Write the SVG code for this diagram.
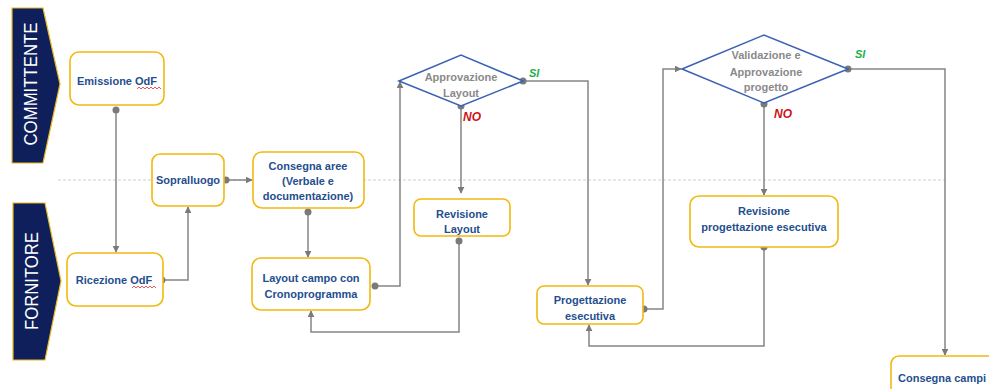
<svg xmlns="http://www.w3.org/2000/svg" width="989" height="389" viewBox="0 0 989 389">
<style>
.lane{fill:#0e1f5b;stroke:#e8b923;stroke-width:1.2}
.lt{fill:#fff;font-family:"Liberation Sans",Arial,sans-serif;font-size:18px;text-anchor:middle;dominant-baseline:central}
.box{fill:#fff;stroke:#f2b90f;stroke-width:1.6}
.dia{fill:#fff;stroke:#3b62b5;stroke-width:1.6}
.t{fill:#1f4f8f;font-family:"Liberation Sans",Arial,sans-serif;font-size:11px;font-weight:bold;text-anchor:middle}
.dt{fill:#8a8a8a;font-family:"Liberation Sans",Arial,sans-serif;font-size:11px;font-weight:bold;text-anchor:middle}
.c{fill:none;stroke:#858585;stroke-width:1.5}
.d{fill:#7a7a7a}
.si{fill:#22b04b;font-family:"Liberation Sans",Arial,sans-serif;font-size:11px;font-weight:bold;font-style:italic}
.no{fill:#d0121b;font-family:"Liberation Sans",Arial,sans-serif;font-size:12px;font-weight:bold;font-style:italic}
.sq{fill:none;stroke:#e03030;stroke-width:0.8}
</style>
<defs>
<marker id="ar" viewBox="0 0 10 10" refX="9" refY="5" markerWidth="7" markerHeight="7" markerUnits="userSpaceOnUse" orient="auto">
<path d="M0,0 L10,5 L0,10 z" fill="#7a7a7a"/>
</marker>
</defs>
<rect width="989" height="389" fill="#fff"/>
<line x1="58" y1="180" x2="945" y2="180" stroke="#cfcfcf" stroke-width="1" stroke-dasharray="3,2"/>
<g id="lane-committente">
<polygon class="lane" points="12,8 43,8 60,84 43,163 12,163"/>
<text class="lt" transform="translate(31,84) rotate(-90)" textLength="123" lengthAdjust="spacingAndGlyphs">COMMITTENTE</text>
</g>
<g id="lane-fornitore">
<polygon class="lane" points="13,203 45,203 61,281 45,360 13,360"/>
<text class="lt" transform="translate(32,281) rotate(-90)" textLength="98" lengthAdjust="spacingAndGlyphs">FORNITORE</text>
</g>
<g id="connectors">
<path class="c" d="M116,110 V252" marker-end="url(#ar)"/>
<circle class="d" cx="116" cy="110" r="3.5"/>
<path class="c" d="M162,280 H188 V207" marker-end="url(#ar)"/>
<circle class="d" cx="162" cy="280" r="3.5"/>
<path class="c" d="M226,180 H252" marker-end="url(#ar)"/>
<circle class="d" cx="226" cy="180" r="3.5"/>
<path class="c" d="M308,212 V257" marker-end="url(#ar)"/>
<circle class="d" cx="308" cy="212" r="3.5"/>
<path class="c" d="M375,286 H400 V82" marker-end="url(#ar)"/>
<circle class="d" cx="375" cy="286" r="3.5"/>
<path class="c" d="M461,106 V193" marker-end="url(#ar)"/>
<circle class="d" cx="461" cy="106" r="3.5"/>
<path class="c" d="M459,241 V332 H311 V311" marker-end="url(#ar)"/>
<circle class="d" cx="459" cy="241" r="3.5"/>
<path class="c" d="M523,81 H588 V285" marker-end="url(#ar)"/>
<circle class="d" cx="523" cy="81" r="3.5"/>
<path class="c" d="M644,309 H663 V69 H681" marker-end="url(#ar)"/>
<circle class="d" cx="644" cy="309" r="3.5"/>
<path class="c" d="M764,104 V195" marker-end="url(#ar)"/>
<circle class="d" cx="764" cy="104" r="3.5"/>
<path class="c" d="M764,247 V346 H589 V325" marker-end="url(#ar)"/>
<circle class="d" cx="764" cy="247" r="3.5"/>
<path class="c" d="M848,69 H945 V355" marker-end="url(#ar)"/>
<circle class="d" cx="848" cy="69" r="3.5"/>
<text class="si" x="529" y="77">SI</text>
<text class="no" x="463" y="121">NO</text>
<text class="no" x="774" y="118">NO</text>
<text class="si" x="855" y="58">SI</text>
</g>
<g id="emissione">
<rect class="box" x="70" y="52" width="94" height="53" rx="9"/>
<text class="t" x="117" y="85">Emissione OdF</text>
<path class="sq" d="M137,89 l2,-2 l2,2 l2,-2 l2,2 l2,-2 l2,2 l2,-2 l2,2 l2,-2 l2,2 l2,-2 l2,2"/>
</g>
<g id="ricezione">
<rect class="box" x="67" y="253" width="96" height="53" rx="9"/>
<text class="t" x="114" y="284">Ricezione OdF</text>
<path class="sq" d="M132,288 l2,-2 l2,2 l2,-2 l2,2 l2,-2 l2,2 l2,-2 l2,2 l2,-2 l2,2 l2,-2 l2,2"/>
</g>
<g id="sopralluogo">
<rect class="box" x="152" y="154" width="72" height="52" rx="8"/>
<text class="t" x="188" y="184">Sopralluogo</text>
</g>
<g id="consegna-aree">
<rect class="box" x="253" y="152" width="111" height="56" rx="9"/>
<text class="t" x="308" y="170">Consegna aree</text>
<text class="t" x="308" y="185">(Verbale e</text>
<text class="t" x="308" y="200">documentazione)</text>
</g>
<g id="layout-campo">
<rect class="box" x="252" y="258" width="118" height="52" rx="9"/>
<text class="t" x="311" y="282">Layout campo con</text>
<text class="t" x="311" y="298">Cronoprogramma</text>
</g>
<g id="approvazione-layout">
<polygon class="dia" points="399,81 461,55 523,81 461,106"/>
<text class="dt" x="461" y="81">Approvazione</text>
<text class="dt" x="461" y="97">Layout</text>
</g>
<g id="revisione-layout">
<rect class="box" x="414" y="199" width="96" height="37" rx="7"/>
<text class="t" x="462" y="218">Revisione</text>
<text class="t" x="462" y="233">Layout</text>
</g>
<g id="progettazione">
<rect class="box" x="537" y="286" width="106" height="38" rx="7"/>
<text class="t" x="590" y="304">Progettazione</text>
<text class="t" x="590" y="320">esecutiva</text>
</g>
<g id="validazione">
<polygon class="dia" points="682,69 764,35 848,69 764,103"/>
<text class="dt" x="766" y="59">Validazione e</text>
<text class="dt" x="766" y="76">Approvazione</text>
<text class="dt" x="766" y="91">progetto</text>
</g>
<g id="revisione-progettazione">
<rect class="box" x="690" y="196" width="148" height="51" rx="9"/>
<text class="t" x="764" y="215">Revisione</text>
<text class="t" x="764" y="231">progettazione esecutiva</text>
</g>
<g id="consegna-campi">
<rect class="box" x="891" y="356" width="110" height="45" rx="8"/>
<text class="t" x="898" y="382" style="text-anchor:start">Consegna campi</text>
</g>
</svg>
